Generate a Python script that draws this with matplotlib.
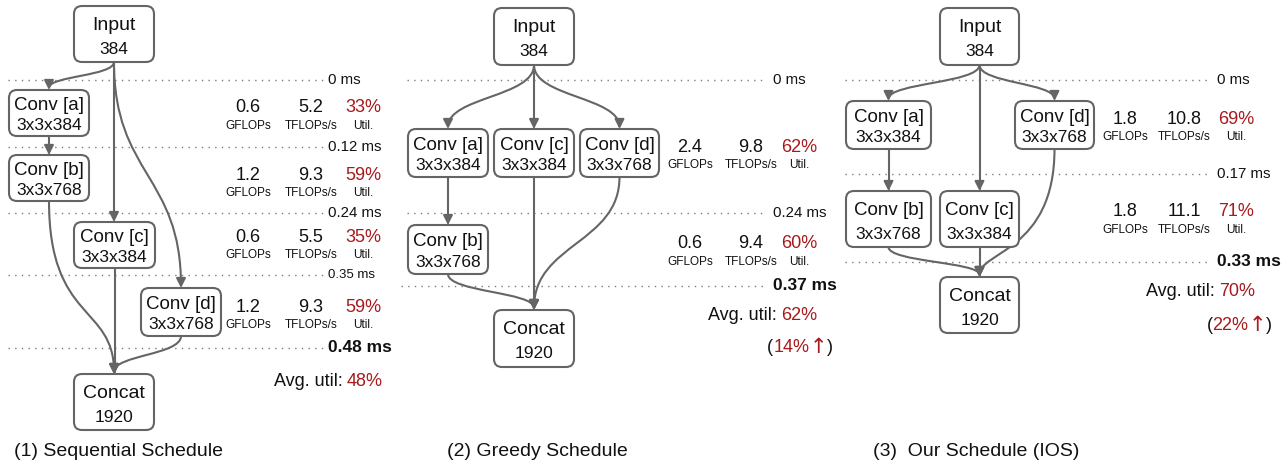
import matplotlib
matplotlib.use('Agg')

import matplotlib.pyplot as plt
from matplotlib.patches import FancyBboxPatch, FancyArrowPatch
from matplotlib.path import Path

plt.rcParams['font.family'] = ['Liberation Sans', 'DejaVu Sans']

RED = '#a8191c'
GRAY = '#656565'
INK = '#111111'

# node labels
NODE_NAME = {'in': 'Input', 'a': 'Conv [a]', 'b': 'Conv [b]', 'c': 'Conv [c]',
             'd': 'Conv [d]', 'cat': 'Concat'}
NODE_DIM = {'in': '384', 'a': '3x3x384', 'b': '3x3x768', 'c': '3x3x384',
            'd': '3x3x768', 'cat': '1920'}
EDGES = [('in', 'a'), ('in', 'c'), ('in', 'd'), ('a', 'b'),
         ('b', 'cat'), ('c', 'cat'), ('d', 'cat')]

TITLES = ['(1) Sequential Schedule', '(2) Greedy Schedule', '(3)  Our Schedule (IOS)']
TIMES = [[0, 0.12, 0.24, 0.35, 0.48], [0, 0.24, 0.37], [0, 0.17, 0.33]]
GFLOPS = [[0.6, 1.2, 0.6, 1.2], [2.4, 0.6], [1.8, 1.8]]
TFLOPS = [[5.2, 9.3, 5.5, 9.3], [9.8, 9.4], [10.8, 11.1]]
UTIL = [[33, 59, 35, 59], [62, 60], [69, 71]]
AVG_UTIL = [48, 62, 70]
GAIN = [None, 14, 22]

# layout, in pixels of the 1284x462 canvas
BOXES = [
    {'in': (74, 6, 80, 56), 'a': (9, 90, 80, 46), 'b': (9, 155, 80, 46),
     'c': (74, 222, 81, 46), 'd': (141, 288, 80, 48), 'cat': (74, 374, 80, 56)},
    {'in': (494, 8, 80, 57), 'a': (408, 129, 80, 48), 'c': (494, 129, 80, 48),
     'd': (580, 129, 79, 48), 'b': (408, 225, 80, 49), 'cat': (494, 310, 80, 57)},
    {'in': (940, 8, 79, 57), 'a': (846, 101, 85, 48), 'd': (1015, 101, 79, 48),
     'b': (846, 191, 85, 56), 'c': (940, 191, 79, 56), 'cat': (940, 277, 79, 56)},
]
# how long a curve stays vertical at its start / end (fraction of height)
BEND = {(0, 'b', 'cat'): (0.7, 0.4), (2, 'd', 'cat'): (0.8, 0.2)}
TIME_Y = [[80, 147, 213, 275, 348], [80, 213, 286], [80, 174, 262]]
LINE_X = [(8, 323), (407, 763), (845, 1210)]
LABEL_X = [328, 773, 1217]
STAT_X = [(248, 311, 363), (690, 751, 799), (1125, 1184, 1236)]
STAT_Y = [[108, 175, 237, 307], [147, 244], [119, 212]]
AVG_POS = [(383, 382), (817, 316), (1255, 292)]
GAIN_POS = [None, (833, 348), (1272, 326)]
TITLE_POS = [(14, 451), (447, 451), (873, 451)]

fig = plt.figure(figsize=(12.84, 4.62), dpi=100)
ax = fig.add_axes([0, 0, 1, 1])
ax.set_xlim(0, 1284)
ax.set_ylim(462, 0)
ax.axis('off')
renderer = fig.canvas.get_renderer()


def width_of(t):
    bb = t.get_window_extent(renderer=renderer)
    return bb.width


def right_pair(x, y, black, red, size):
    # black prefix + red value, right aligned at x
    t = ax.text(x, y, red, color=RED, fontsize=size, ha='right', va='center')
    w = width_of(t)
    ax.text(x - w - 4, y, black, color=INK, fontsize=size, ha='right', va='center')


for p in range(3):
    boxes = BOXES[p]

    # dotted time lines
    for i, (t, y) in enumerate(zip(TIMES[p], TIME_Y[p])):
        x0, x1 = LINE_X[p]
        last = i == len(TIMES[p]) - 1
        if p == 1 and last:
            x0 -= 6
        ax.plot([x0, x1], [y, y], color='#7a7a7a', lw=1.0,
                linestyle=(0, (1, 3.8)), zorder=1)
        size, weight = 10.8, 'normal'
        if last:
            size, weight = 12.5, 'bold'
        elif p == 0 and i == 3:
            size = 9.5
        ax.text(LABEL_X[p], y, f'{t:g} ms', fontsize=size, fontweight=weight,
                color=INK, ha='left', va='center')

    # edges
    for s, d in EDGES:
        bx, by, bw, bh = boxes[s]
        cx, cy, cw, ch = boxes[d]
        x0, y0 = bx + bw / 2, by + bh
        x1, y1 = cx + cw / 2, cy
        if abs(x0 - x1) < 1:
            path = Path([(x0, y0), (x0, y1)], [Path.MOVETO, Path.LINETO])
        else:
            ka, kb = BEND.get((p, s, d), (0.5, 0.5))
            dy = y1 - y0
            path = Path([(x0, y0), (x0, y0 + ka * dy), (x1, y1 - kb * dy), (x1, y1)],
                        [Path.MOVETO, Path.CURVE4, Path.CURVE4, Path.CURVE4])
        ax.add_patch(FancyArrowPatch(path=path, arrowstyle='-|>', mutation_scale=14,
                                     color=GRAY, lw=1.5, zorder=2))

    # nodes
    for key, (x, y, w, h) in boxes.items():
        ax.add_patch(FancyBboxPatch((x, y), w, h, boxstyle='round,pad=0,rounding_size=8',
                                    facecolor='white', edgecolor=GRAY, lw=1.5, zorder=3))
        big = key in ('in', 'cat')
        ax.text(x + w / 2, y + 0.34 * h, NODE_NAME[key], fontsize=14 if big else 13.5,
                color=INK, ha='center', va='center', zorder=4)
        ax.text(x + w / 2, y + 0.77 * h, NODE_DIM[key], fontsize=12.5,
                color=INK, ha='center', va='center', zorder=4)

    # per stage numbers
    gx, tx, ux = STAT_X[p]
    for g, tf, u, y in zip(GFLOPS[p], TFLOPS[p], UTIL[p], STAT_Y[p]):
        ax.text(gx, y, f'{g}', fontsize=13, color=INK, ha='center', va='center')
        ax.text(tx, y, f'{tf}', fontsize=13, color=INK, ha='center', va='center')
        ax.text(ux, y, f'{u}%', fontsize=13, color=RED, ha='center', va='center')
        ax.text(gx, y + 18, 'GFLOPs', fontsize=8.5, color=INK, ha='center', va='center')
        ax.text(tx, y + 18, 'TFLOPs/s', fontsize=8.5, color=INK, ha='center', va='center')
        ax.text(ux, y + 18, 'Util.', fontsize=8.5, color=INK, ha='center', va='center')

    ax_x, ax_y = AVG_POS[p]
    right_pair(ax_x, ax_y, 'Avg. util:', f'{AVG_UTIL[p]}%', 13)

    if GAIN[p] is not None:
        gxr, gy = GAIN_POS[p]
        t = ax.text(gxr, gy, ')', fontsize=13, color=INK, ha='right', va='center')
        w = width_of(t)
        t_arrow = ax.text(gxr - w, gy - 1, '\u2191', fontsize=15, color=RED,
                          family='DejaVu Sans', ha='right', va='center')
        wa = width_of(t_arrow)
        t2 = ax.text(gxr - w - wa, gy, f'{GAIN[p]}%', fontsize=13, color=RED,
                     ha='right', va='center')
        w2 = width_of(t2)
        ax.text(gxr - w - wa - w2, gy, '(', fontsize=13, color=INK, ha='right', va='center')

    tx0, ty0 = TITLE_POS[p]
    ax.text(tx0, ty0, TITLES[p], fontsize=14, color=INK, ha='left', va='center')

fig.savefig('out.png', dpi=100)
